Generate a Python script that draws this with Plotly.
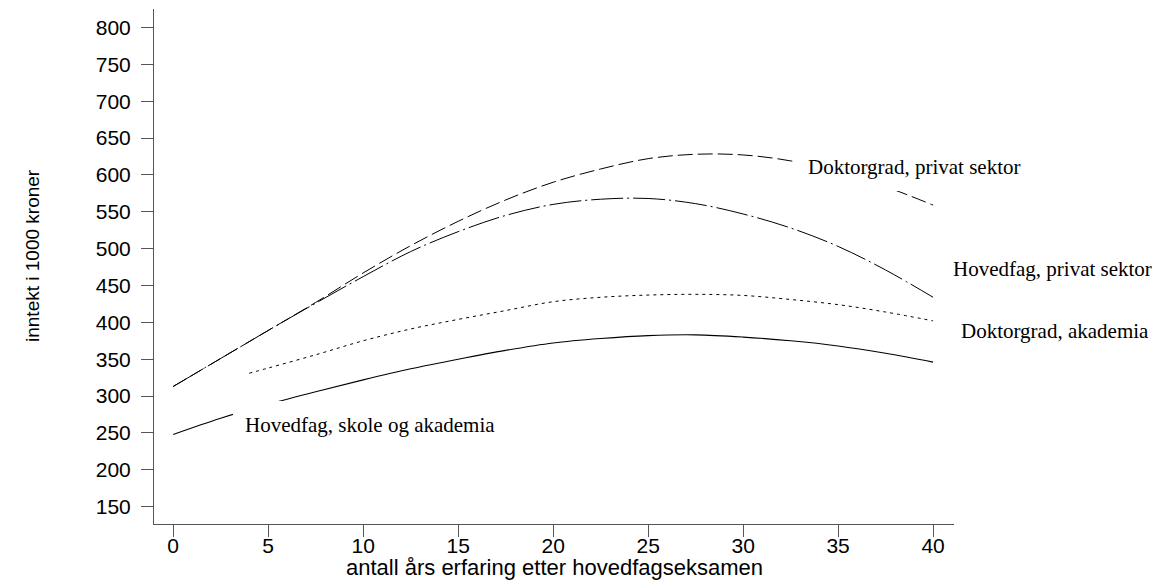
import plotly.graph_objects as go

# ---- data ----
x_hs = [0, 2.5, 5, 7.5, 10, 12.5, 15, 17.5, 20, 22.5, 25, 27.5, 30, 32.5, 35, 37.5, 40]
hovedfag_skole = [248, 270, 289, 306, 322, 337, 350, 362, 372, 378, 382, 383, 380, 375, 368, 358, 346]

x_da = [4, 5, 7.5, 10, 12.5, 15, 17.5, 20, 22.5, 25, 27.5, 30, 32.5, 35, 37.5, 40]
doktorgrad_akademia = [331, 338, 356, 375, 391, 404, 416, 428, 434, 437, 438, 436.5, 431, 424, 414, 402]

x_hp = [0, 2.5, 5, 7.5, 10, 12.5, 15, 17.5, 20, 22.5, 25, 27.5, 30, 32.5, 35, 37.5, 40]
hovedfag_privat = [313, 351, 389, 426, 462, 496, 523, 545, 560, 567, 568, 561, 547, 528, 503, 471, 434]

x_dp = [0, 2.5, 5, 7.5, 10, 12.5, 15, 17.5, 20, 22.5, 25, 27.5, 30, 32.5, 35, 37.5, 40]
doktorgrad_privat = [313, 351, 389, 427, 467, 504, 537, 566, 590, 608, 622, 628, 627, 619, 604, 584, 559]

x_ticks = [0, 5, 10, 15, 20, 25, 30, 35, 40]
y_ticks = [150, 200, 250, 300, 350, 400, 450, 500, 550, 600, 650, 700, 750, 800]

labels = ["Doktorgrad, privat sektor", "Hovedfag, privat sektor",
          "Doktorgrad, akademia", "Hovedfag, skole og akademia"]
label_x = [32.77, 40.42, 40.84, 3.17]
label_y = [611, 472.5, 388, 260.8]

x_title = "antall års erfaring etter hovedfagseksamen"
y_title = "inntekt i 1000 kroner"

fig = go.Figure()
fig.add_trace(go.Scatter(x=x_hs, y=hovedfag_skole, mode="lines", line_shape="spline",
                         line=dict(color="black", width=1.1)))
fig.add_trace(go.Scatter(x=x_da, y=doktorgrad_akademia, mode="lines", line_shape="spline",
                         line=dict(color="black", width=1.0, dash="3px,4px")))
fig.add_trace(go.Scatter(x=x_hp, y=hovedfag_privat, mode="lines", line_shape="spline",
                         line=dict(color="black", width=1.0, dash="32px,4px,2px,4px")))
fig.add_trace(go.Scatter(x=x_dp, y=doktorgrad_privat, mode="lines", line_shape="spline",
                         line=dict(color="black", width=1.0, dash="15px,5px")))

for t, lx, ly in zip(labels, label_x, label_y):
    fig.add_annotation(x=lx, y=ly, xref="x", yref="y", text=t, showarrow=False,
                       xanchor="left", yanchor="middle", bgcolor="white",
                       borderpad=12, borderwidth=0,
                       font=dict(family="Liberation Serif, Times New Roman, serif", size=21, color="black"))

fig.add_annotation(x=0.5, y=0, xref="paper", yref="paper", text=x_title, showarrow=False,
                   xanchor="center", yanchor="middle", yshift=-43,
                   font=dict(family="Liberation Sans, Arial, sans-serif", size=22, color="black"))
fig.add_annotation(x=0, y=0.5204, xref="paper", yref="paper", text=y_title, showarrow=False,
                   textangle=-90, xanchor="center", yanchor="middle", xshift=-121,
                   font=dict(family="Liberation Sans, Arial, sans-serif", size=19, color="black"))

axis_common = dict(showgrid=False, zeroline=False, showline=True, linecolor="#555",
                   linewidth=1, ticks="outside", ticklen=12, tickwidth=1, tickcolor="#555",
                   tickfont=dict(family="Liberation Sans, Arial, sans-serif", size=21, color="black"))
fig.update_xaxes(range=[-1.01, 41.1], tickvals=x_ticks, ticktext=[str(v) for v in x_ticks],
                 ticklabelstandoff=-9, **axis_common)
fig.update_yaxes(range=[126.5, 825], tickvals=y_ticks, ticktext=[str(v) for v in y_ticks],
                 ticklabelstandoff=6, **axis_common)

# the page body has an 8px margin, so the figure is shifted by 8px
fig.update_layout(width=1155, height=574, showlegend=False,
                  plot_bgcolor="white", paper_bgcolor="white",
                  margin=dict(l=146, r=209, t=1, b=58))

fig.write_html("out.html")
